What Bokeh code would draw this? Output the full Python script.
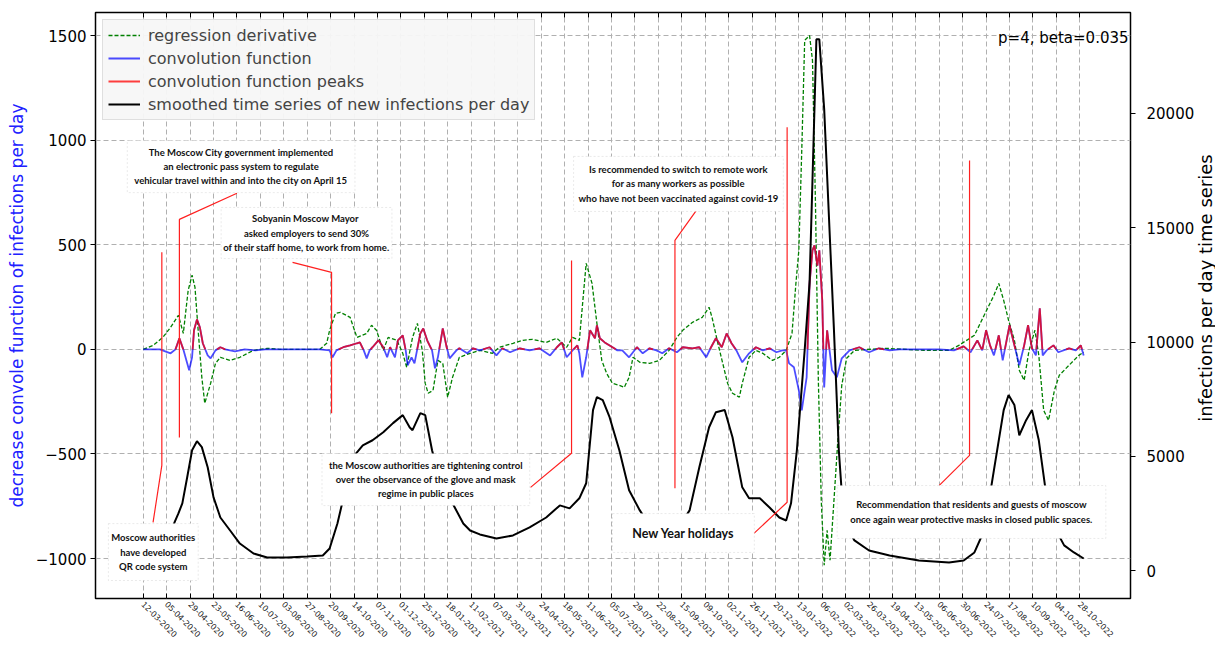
import math
import pandas as pd
from bokeh.plotting import figure
from bokeh.layouts import row
from bokeh.models import (Range1d, LinearAxis, DatetimeAxis, FixedTicker, DatetimeTickFormatter,
                          Legend, LegendItem, BoxAnnotation, Label, CustomJSTickFormatter, Div)
from bokeh.embed import file_html
from bokeh.resources import INLINE

START = pd.Timestamp("2020-03-12")

tick_labels = ["12-03-2020", "05-04-2020", "29-04-2020", "23-05-2020", "16-06-2020", "10-07-2020",
               "03-08-2020", "27-08-2020", "20-09-2020", "14-10-2020", "07-11-2020", "01-12-2020",
               "25-12-2020", "18-01-2021", "11-02-2021", "07-03-2021", "31-03-2021", "24-04-2021",
               "18-05-2021", "11-06-2021", "05-07-2021", "29-07-2021", "22-08-2021", "15-09-2021",
               "09-10-2021", "02-11-2021", "26-11-2021", "20-12-2021", "13-01-2022", "06-02-2022",
               "02-03-2022", "26-03-2022", "19-04-2022", "13-05-2022", "06-06-2022", "30-06-2022",
               "24-07-2022", "17-08-2022", "10-09-2022", "04-10-2022", "28-10-2022"]
left_ticks = [-1000, -500, 0, 500, 1000, 1500]
right_ticks = [0, 5000, 10000, 15000, 20000]

# smoothed time series of new infections per day (right axis); day offset from 12-03-2020
smooth_day = [0, 7, 17, 26, 32, 36, 40, 45, 50, 55, 60, 66, 72, 79, 89, 99, 113, 127, 147, 168,
              184, 191, 199, 207, 215, 225, 235, 246, 256, 266, 273, 276, 284, 289, 296, 304, 311, 317, 328, 335,
              345, 362, 379, 396, 413, 427, 437, 447, 454, 461, 465, 471, 478, 488, 498, 509, 519, 534, 550, 560,
              570, 580, 587, 596, 604, 614, 621, 632, 642, 652, 659, 664, 670, 678, 683, 686, 690, 693, 698, 703,
              708, 713, 718, 729, 744, 765, 795, 826, 841, 852, 862, 872, 882, 887, 893, 898, 905, 911, 918, 925,
              933, 944, 954, 964]
smooth_val = [44, 175, 526, 1316, 2105, 2500, 2940, 4080, 5260, 5660, 5400, 4520, 3200, 2320, 1750, 1180, 745, 570, 570, 614,
              660, 965, 2060, 3510, 4960, 5480, 5700, 6050, 6450, 6800, 6270, 6140, 6890, 6800, 5260, 3950, 3290, 2940, 2060, 1750,
              1580, 1400, 1535, 1890, 2320, 2850, 2720, 3160, 3820, 7020, 7590, 7460, 6710, 5260, 3510, 2630, 1970, 1750, 1970, 2630,
              4520, 6270, 6930, 7020, 5830, 3640, 3160, 3160, 2760, 2320, 2190, 2940, 5260, 9650, 12590, 17100, 23250, 23250, 20180, 15350,
              10530, 5260, 2190, 1316, 877, 658, 438, 351, 438, 790, 1750, 4390, 7020, 7680, 7240, 5920, 6580, 7020, 5700, 3510,
              1970, 1100, 790, 526]

# regression derivative (left axis)
deriv_day = [0, 10, 20, 28, 36, 41, 46, 50, 53, 56, 60, 63, 69, 74, 79, 89, 99, 113, 127, 140,
             161, 181, 188, 191, 197, 202, 212, 219, 229, 234, 239, 246, 251, 260, 266, 270, 276, 281, 286, 289,
             292, 297, 302, 307, 312, 317, 324, 335, 345, 358, 365, 379, 389, 399, 413, 424, 434, 440, 447, 454,
             460, 465, 470, 475, 481, 488, 493, 498, 502, 509, 519, 529, 539, 547, 553, 563, 573, 580, 583, 589,
             594, 599, 604, 611, 614, 621, 628, 635, 645, 652, 659, 665, 669, 672, 675, 678, 683, 686, 689, 692,
             695, 698, 701, 704, 708, 712, 716, 721, 729, 760, 800, 826, 836, 852, 862, 872, 877, 882, 887, 893,
             898, 903, 908, 914, 918, 923, 928, 934, 939, 949, 959, 964]
deriv_val = [0, 19, 57, 105, 163, 76, 282, 354, 296, 105, -134, -258, -163, -67, -38, -53, -38, -5, 5, 0,
             0, 0, 29, 91, 172, 177, 153, 57, 76, 115, 91, -5, 57, 43, -19, -86, 57, 124, -5, -163,
             -210, -196, -53, -67, -229, -134, -38, -19, -5, -19, 10, 29, 43, 48, 33, 53, 10, 57, 43, 411,
             315, 124, -53, -115, -163, -172, -182, -134, -38, -62, -67, -53, -5, 57, 91, 129, 153, 201, 153, 29,
             -67, -163, -210, -229, -163, -38, -5, -19, -53, -38, -5, 76, 315, 473, 951, 1477, 1500, 1381, 712, -148,
             -722, -1032, -865, -1008, -722, -435, -172, -43, -5, 5, -5, -5, 19, 67, 163, 258, 315, 234, 139, 43,
             -100, -148, -5, 91, -29, -292, -339, -196, -124, -76, -29, -14]

# convolution function (left axis)
conv_day = [0, 17, 28, 33, 37, 41, 45, 47, 50, 52, 55, 58, 61, 66, 69, 74, 79, 84, 94, 104,
            115, 125, 140, 161, 181, 191, 194, 198, 205, 212, 219, 222, 226, 229, 232, 235, 241, 246, 250, 253,
            258, 261, 266, 269, 271, 275, 278, 284, 287, 291, 296, 299, 302, 307, 311, 314, 321, 324, 332, 338,
            345, 355, 362, 368, 376, 386, 396, 406, 417, 424, 429, 434, 440, 445, 447, 450, 454, 458, 463, 465,
            468, 473, 481, 486, 491, 498, 506, 512, 519, 526, 532, 539, 547, 553, 563, 570, 577, 582, 587, 593,
            598, 603, 608, 614, 621, 628, 635, 642, 649, 655, 659, 662, 667, 672, 675, 680, 683, 686, 688, 691,
            693, 696, 698, 701, 706, 711, 716, 724, 734, 744, 754, 765, 775, 795, 816, 831, 841, 848, 855, 860,
            864, 868, 872, 877, 881, 885, 888, 893, 898, 903, 907, 911, 915, 919, 922, 926, 933, 938, 949, 956,
            961, 964]
conv_val = [0, 0, -19, 0, 53, 0, -67, -100, -38, 91, 143, 105, 29, -29, -43, -5, 10, 0, -10, 0,
            -5, 0, 0, 0, 0, -5, -38, -5, 10, 19, 29, 33, -5, -43, -5, 10, 43, 10, -38, 10,
            -38, 43, 67, -5, -76, -38, -67, 76, 100, 43, -5, -91, -38, 100, 10, -43, -5, 5, -19, 5,
            -5, 10, -29, 5, -14, 5, -5, 5, -29, 10, 33, -38, -5, 19, -19, -134, -38, 91, 53, 115,
            53, 33, 10, -5, -5, -38, 10, -19, 5, -5, -19, 5, -14, 10, 5, 10, -38, 10, 53, 10,
            76, 29, -5, -62, -19, 10, -5, 5, -14, -5, -5, -67, -86, -196, -292, -134, 315, 473, 497, 400,
            473, 234, -182, 91, -100, -134, -43, -5, 10, -14, 5, -5, 0, 0, 0, -5, 14, -14, 43, -5,
            91, 19, -29, 67, -53, 43, 115, 19, -76, 19, 115, 5, -29, 196, -29, -5, 19, -14, 5, -5,
            19, -29]

# events (red markers), left-axis units
event_day = [19, 37, 193, 439, 545, 660, 847]
event_top = [464, 621, 368, 425, 521, 1061, 903]
event_bottom = [-555, -421, -306, -497, -664, -731, -507]

# annotation layout
conn_end = ["bottom", "top", "top", "bottom", "top", "bottom", "bottom"]
conn_day = [10, 96, 153, 397, 567, 626, 816]
conn_val = [-827, 746, 416, -660, 664, -880, -650]
box_left = [-35.8, -16.4, 79.8, 183.2, 441.1, 481.0, 711.3]
box_right = [56.3, 217.0, 254.9, 396.1, 656.1, 626.4, 986.7]
box_top = [-833, 998, 678, -498, 922, -785, -651]
box_bottom = [-1105, 749, 434, -747, 659, -971, -904]
box_text = ["Moscow authorities\nhave developed\nQR code system",
            "The Moscow City government implemented\nan electronic pass system to regulate\nvehicular travel within and into the city on April 15",
            "Sobyanin  Moscow Mayor\nasked employers to send 30%\nof their staff home, to work from home.",
            "the Moscow authorities are tightening control\nover the observance of the glove and mask\nregime in public places",
            "Is recommended to switch to remote work\nfor as many workers as possible\nwho have not been vaccinated against covid-19",
            "New Year holidays",
            "Recommendation that residents and guests of moscow\nonce again wear protective masks in closed public spaces."]
box_font = ["9.5px", "9.5px", "9.5px", "9.5px", "9.5px", "12.5px", "9.5px"]


def ms(d):
    return (START + pd.Timedelta(days=float(d))).value / 1e6


def ms_list(days):
    return [ms(d) for d in days]


p = figure(width=1197, height=646, x_axis_type="datetime", output_backend="svg", toolbar_location=None,
           x_range=Range1d(ms(-49), ms(1012)), y_range=Range1d(-1191, 1610),
           min_border_left=95, min_border_right=65, min_border_top=12, min_border_bottom=48)
p.extra_y_ranges = {"inf": Range1d(-1225, 24420)}
p.outline_line_color = "black"
p.outline_line_width = 1.5
p.background_fill_color = "white"

tick_ms = [pd.Timestamp(pd.to_datetime(t, format="%d-%m-%Y")).value / 1e6 for t in tick_labels]
fmt = "%d-%m-%Y"
dt_fmt = DatetimeTickFormatter(microseconds=fmt, milliseconds=fmt, seconds=fmt, minsec=fmt, minutes=fmt,
                               hourmin=fmt, hours=fmt, days=fmt, months=fmt, years=fmt)

xa = p.xaxis[0]
xa.ticker = FixedTicker(ticks=tick_ms)
xa.formatter = dt_fmt
xa.major_label_orientation = -0.785
xa.major_label_text_font = "DejaVu Sans"
xa.major_label_text_font_size = "8px"
xa.major_label_text_color = "#222222"
xa.major_tick_in = 5
xa.major_tick_out = 0
xa.minor_tick_line_color = None
xa.axis_line_color = None
xa.major_label_standoff = 4

top_ax = DatetimeAxis(ticker=FixedTicker(ticks=tick_ms), formatter=CustomJSTickFormatter(code="return '';"))
top_ax.major_label_standoff = 0
top_ax.major_tick_in = 5
top_ax.major_tick_out = 0
top_ax.minor_tick_line_color = None
top_ax.axis_line_color = None
p.add_layout(top_ax, "above")

ya = p.yaxis[0]
ya.ticker = FixedTicker(ticks=left_ticks)
ya.formatter = CustomJSTickFormatter(code="return tick < 0 ? '\\u2212' + Math.abs(tick) : String(tick);")
ya.major_label_text_font = "DejaVu Sans"
ya.major_label_text_font_size = "15px"
ya.major_label_text_color = "black"
ya.major_tick_in = 0
ya.major_tick_out = 5
ya.minor_tick_line_color = None
ya.axis_line_color = None
ya.major_label_standoff = 4
ya.axis_label = "decrease convole function of infections per day"
ya.axis_label_text_color = "#2020ff"
ya.axis_label_text_font = "DejaVu Sans"
ya.axis_label_text_font_size = "17px"
ya.axis_label_text_font_style = "normal"
ya.axis_label_standoff = 6

ra = LinearAxis(y_range_name="inf", ticker=FixedTicker(ticks=right_ticks))
ra.major_label_text_font = "DejaVu Sans"
ra.major_label_text_font_size = "15px"
ra.major_label_text_color = "black"
ra.major_tick_in = 0
ra.major_tick_out = 5
ra.minor_tick_line_color = None
ra.axis_line_color = None
ra.major_label_standoff = 11
p.add_layout(ra, "right")

p.xgrid.ticker = FixedTicker(ticks=tick_ms)
p.ygrid.ticker = FixedTicker(ticks=left_ticks)
for g in (p.xgrid, p.ygrid):
    g.grid_line_color = "#b0b0b0"
    g.grid_line_dash = "5 3"
    g.grid_line_width = 1

# series
r_green = p.line(ms_list(deriv_day), deriv_val, line_color="green", line_width=1.3, line_dash="4 2")
r_blue = p.line(ms_list(conv_day), conv_val, line_color="blue", line_alpha=0.7, line_width=1.8)

# peaks: positive parts of the convolution function
seg_x, seg_y = [], []
cx, cy = [], []
for i in range(len(conv_day)):
    v = conv_val[i]
    if v > 0:
        if not cx and i > 0:
            d0, v0 = conv_day[i - 1], conv_val[i - 1]
            t = -v0 / (v - v0)
            cx.append(ms(d0 + t * (conv_day[i] - d0)))
            cy.append(0)
        cx.append(ms(conv_day[i]))
        cy.append(v)
    else:
        if cx:
            d0, v0 = conv_day[i - 1], conv_val[i - 1]
            t = v0 / (v0 - v)
            cx.append(ms(d0 + t * (conv_day[i] - d0)))
            cy.append(0)
            seg_x.append(cx)
            seg_y.append(cy)
            cx, cy = [], []
if cx:
    seg_x.append(cx)
    seg_y.append(cy)
r_red = p.multi_line(seg_x, seg_y, line_color="red", line_alpha=0.75, line_width=1.8)

r_black = p.line(ms_list(smooth_day), smooth_val, line_color="black", line_width=2, y_range_name="inf")

# event markers
ev_x, ev_y = [], []
for i in range(len(event_day)):
    if conn_end[i] == "bottom":
        ev_x.append([ms(conn_day[i]), ms(event_day[i]), ms(event_day[i])])
        ev_y.append([conn_val[i], event_bottom[i], event_top[i]])
    else:
        ev_x.append([ms(conn_day[i]), ms(event_day[i]), ms(event_day[i])])
        ev_y.append([conn_val[i], event_top[i], event_bottom[i]])
p.multi_line(ev_x, ev_y, line_color="#ff2020", line_width=1.2)

for i in range(len(box_text)):
    p.add_layout(BoxAnnotation(left=ms(box_left[i]), right=ms(box_right[i]), top=box_top[i], bottom=box_bottom[i],
                               fill_color="white", fill_alpha=1.0, line_color="#b8b8b8", line_width=1,
                               line_dash="2 2"))
    p.add_layout(Label(x=ms((box_left[i] + box_right[i]) / 2), y=(box_top[i] + box_bottom[i]) / 2,
                       text=box_text[i], text_align="center", text_baseline="middle",
                       text_font="Lato", text_font_style="bold", text_font_size=box_font[i],
                       text_color="#111111", text_line_height=1.3))

p.add_layout(Label(x=ms(1010), y=1486, text="p=4, beta=0.035", text_align="right", text_baseline="middle",
                   text_font="DejaVu Sans", text_font_size="15px", text_color="black"))

legend = Legend(items=[LegendItem(label="regression derivative", renderers=[r_green]),
                       LegendItem(label="convolution function", renderers=[r_blue]),
                       LegendItem(label="convolution function peaks", renderers=[r_red]),
                       LegendItem(label="smoothed time series of new infections per day", renderers=[r_black])],
                location="top_left")
legend.label_text_font = "DejaVu Sans"
legend.label_text_font_size = "16px"
legend.glyph_width = 32
legend.glyph_height = 20
legend.label_height = 20
legend.spacing = 3
legend.padding = 5
legend.margin = 7
legend.label_standoff = 8
legend.background_fill_color = "#f7f7f7"
legend.background_fill_alpha = 0.95
legend.border_line_color = "#c8c8c8"
legend.border_line_width = 1
p.add_layout(legend)

# right axis title, reading bottom to top
right_title = Div(
    text=('<div style="width:18px;height:576px;display:flex;align-items:center;justify-content:center;">'
          '<div style="transform:rotate(-90deg);white-space:nowrap;font-family:\'DejaVu Sans\';'
          'font-size:18px;color:black;line-height:18px;">infections per day time series</div></div>'),
    width=18, height=646, styles={"overflow": "visible", "margin": "0", "padding": "0"})

layout = row(p, right_title, spacing=0)
open("out.html", "w").write(file_html(layout, INLINE))
